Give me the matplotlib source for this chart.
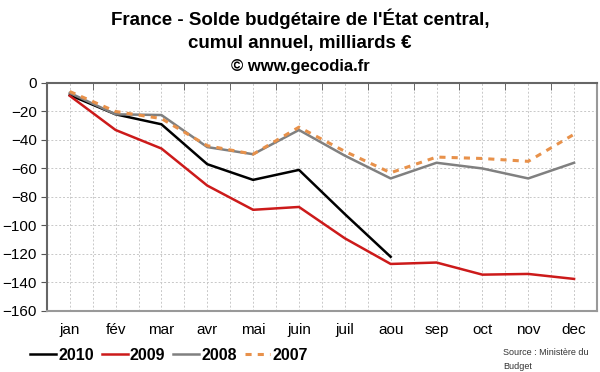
import numpy as np
import matplotlib.pyplot as plt

plt.rcParams['font.family'] = ['Liberation Sans', 'DejaVu Sans']

months = ["jan", "fév", "mar", "avr", "mai", "juin", "juil", "aou", "sep", "oct", "nov", "dec"]
s2010 = [-8.5, -22, -29, -57, -68, -61, -92, -122]
s2009 = [-9, -33, -46, -72, -89, -87, -109, -127, -126, -134.5, -134, -137.5]
s2008 = [-7, -22, -22.5, -45, -50, -33, -51, -67, -56, -60, -67, -56]
s2007 = [-6, -20, -25, -44, -50, -31, -48, -63, -52, -53, -55, -36]

fig = plt.figure(figsize=(6, 3.72), dpi=100)
ax = fig.add_axes([0.078, 0.164, 0.917, 0.613])

x = np.arange(len(months))
ax.plot(x[:len(s2010)], s2010, color='black', lw=1.8, label='2010')
ax.plot(x, s2009, color='#cc1a1a', lw=1.8, label='2009')
ax.plot(x, s2008, color='#808080', lw=1.8, label='2008')
ax.plot(x, s2007, color='#e8914a', lw=2.2, ls=(0, (2, 2)), label='2007')

ax.set_xlim(-0.5, 11.5)
ax.set_ylim(-160, 0)
ax.set_yticks(np.arange(-160, 1, 20))
ax.set_xticks(x)
ax.set_xticklabels(months)
ax.set_xticks(np.arange(-0.5, 11.6, 1), minor=True)

ax.grid(True, which='both', axis='x', color='#c8c8c8', ls=(0, (2, 2)), lw=0.7)
ax.grid(True, which='major', axis='y', color='#c8c8c8', ls=(0, (2, 2)), lw=0.7)
ax.set_axisbelow(True)

ax.tick_params(axis='x', which='major', length=0, pad=9, labelsize=11)
ax.tick_params(axis='x', which='minor', top=True, bottom=False, direction='in', length=5, color='#555555')
ax.tick_params(axis='y', length=4, color='#555555', labelsize=11, pad=3)

for side in ['left', 'top']:
    ax.spines[side].set_color('#666666')
    ax.spines[side].set_linewidth(1.5)
for side in ['right', 'bottom']:
    ax.spines[side].set_color('#999999')
    ax.spines[side].set_linewidth(1.5)

fig.text(0.5, 0.95, "France - Solde budgétaire de l'État central,", ha='center', va='center',
         fontsize=13.5, fontweight='bold')
fig.text(0.5, 0.882, "cumul annuel, milliards €", ha='center', va='center',
         fontsize=13.5, fontweight='bold')
fig.text(0.5, 0.82, "© www.gecodia.fr", ha='center', va='center',
         fontsize=12, fontweight='bold')

fig.legend(loc='center left', bbox_to_anchor=(0.04, 0.045), ncol=4, frameon=False,
           prop={'weight': 'bold', 'size': 11.5},
           handlelength=1.6, handletextpad=0.15, columnspacing=0.5, borderaxespad=0)

fig.text(0.838, 0.052, "Source : Ministère du", fontsize=6.5, va='center', color='#333333')
fig.text(0.838, 0.015, "Budget", fontsize=6.5, va='center', color='#333333')

fig.savefig("out.png", dpi=100)
